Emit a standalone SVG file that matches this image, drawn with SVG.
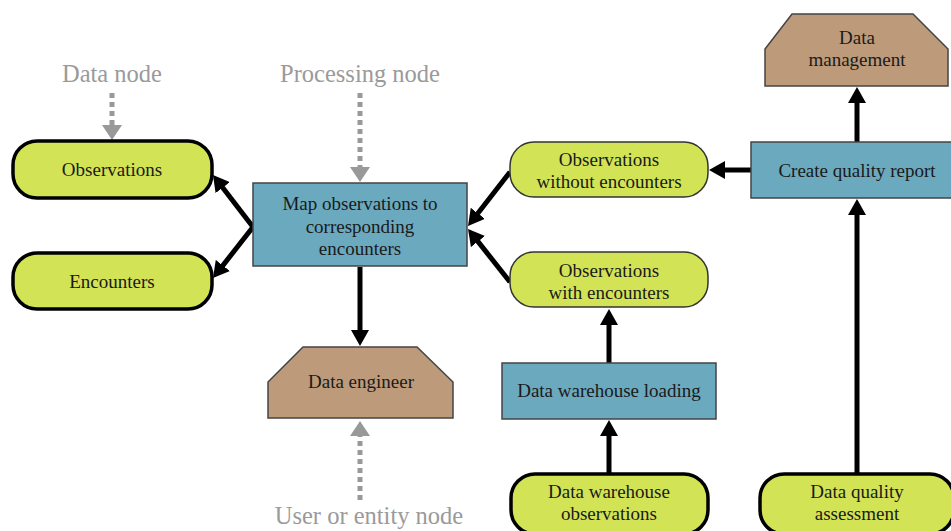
<svg xmlns="http://www.w3.org/2000/svg" width="951" height="531" viewBox="0 0 951 531">
<defs>
<style>
.lbl{font-family:"Liberation Serif","DejaVu Serif",serif;font-size:19px;fill:#1a1a1a;text-anchor:middle}
.gl{font-family:"Liberation Serif","DejaVu Serif",serif;font-size:24.5px;fill:#9a9a9a;text-anchor:middle}
.dthick{fill:#d2e356;stroke:#000;stroke-width:3.5}
.dthin{fill:#d2e356;stroke:#333;stroke-width:1.5}
.proc{fill:#6ba9bf;stroke:#444;stroke-width:1.5}
.user{fill:#bd9a7a;stroke:#444;stroke-width:1.5}
.ar{stroke:#000;stroke-width:5;fill:none;marker-end:url(#ah)}
.dot{stroke:#999;stroke-width:5;stroke-dasharray:5 4;fill:none;marker-end:url(#gh)}
</style>
<marker id="ah" markerUnits="userSpaceOnUse" markerWidth="16" markerHeight="18" refX="4" refY="9" orient="auto" viewBox="0 0 16 18">
<path d="M0,0 L16,9 L0,18 z" fill="#000"/>
</marker>
<marker id="gh" markerUnits="userSpaceOnUse" markerWidth="15" markerHeight="20" refX="0" refY="10" orient="auto" viewBox="0 0 15 20">
<path d="M0,0 L15,10 L0,20 z" fill="#999"/>
</marker>
</defs>

<g id="legend">
<text class="gl" x="112" y="82">Data node</text>
<text class="gl" x="360" y="82">Processing node</text>
<text class="gl" x="369" y="524">User or entity node</text>
</g>

<g id="connectors">
<line class="dot" x1="112" y1="93" x2="112" y2="125"/>
<line class="dot" x1="360" y1="93" x2="360" y2="167"/>
<line class="dot" x1="360" y1="500" x2="360" y2="436"/>
<line class="ar" x1="253" y1="227" x2="220.3" y2="184.5"/>
<line class="ar" x1="253" y1="227" x2="220.4" y2="268.6"/>
<line class="ar" x1="510" y1="172" x2="475.4" y2="216.5"/>
<line class="ar" x1="510" y1="282" x2="475.5" y2="238.4"/>
<line class="ar" x1="360" y1="267" x2="360" y2="334"/>
<line class="ar" x1="609" y1="363" x2="609" y2="321"/>
<line class="ar" x1="609" y1="473" x2="609" y2="432"/>
<line class="ar" x1="857" y1="473" x2="857" y2="211"/>
<line class="ar" x1="857" y1="142" x2="857" y2="99"/>
<line class="ar" x1="751" y1="170" x2="721" y2="170"/>
</g>

<g id="observations">
<rect class="dthick" x="13" y="141" width="199" height="57" rx="24"/>
<text class="lbl" x="112" y="176">Observations</text>
</g>
<g id="encounters">
<rect class="dthick" x="13" y="253" width="199" height="56" rx="24"/>
<text class="lbl" x="112" y="288">Encounters</text>
</g>
<g id="map">
<rect class="proc" x="253" y="183" width="214" height="83"/>
<text class="lbl" x="360" y="210">Map observations to</text>
<text class="lbl" x="360" y="233">corresponding</text>
<text class="lbl" x="360" y="255">encounters</text>
</g>
<g id="data-engineer">
<polygon class="user" points="303,347 417,347 453,382 453,418 268,418 268,382"/>
<text class="lbl" x="361" y="388">Data engineer</text>
</g>
<g id="obs-without">
<rect class="dthin" x="510" y="142" width="198" height="55" rx="24"/>
<text class="lbl" x="609" y="166">Observations</text>
<text class="lbl" x="609" y="188">without encounters</text>
</g>
<g id="obs-with">
<rect class="dthin" x="510" y="252" width="198" height="55" rx="24"/>
<text class="lbl" x="609" y="277">Observations</text>
<text class="lbl" x="609" y="299">with encounters</text>
</g>
<g id="create-report">
<rect class="proc" x="751" y="142" width="205" height="56"/>
<text class="lbl" x="857" y="177">Create quality report</text>
</g>
<g id="data-management">
<polygon class="user" points="792,14 913,14 948,49 948,86 765,86 765,49"/>
<text class="lbl" x="857" y="44">Data</text>
<text class="lbl" x="857" y="66">management</text>
</g>
<g id="dw-loading">
<rect class="proc" x="502" y="363" width="214" height="56"/>
<text class="lbl" x="609" y="397">Data warehouse loading</text>
</g>
<g id="dw-observations">
<rect class="dthick" x="511" y="474" width="197" height="60" rx="24"/>
<text class="lbl" x="609" y="498">Data warehouse</text>
<text class="lbl" x="609" y="520">observations</text>
</g>
<g id="dq-assessment">
<rect class="dthick" x="760" y="474" width="194" height="60" rx="24"/>
<text class="lbl" x="857" y="498">Data quality</text>
<text class="lbl" x="857" y="520">assessment</text>
</g>
</svg>
